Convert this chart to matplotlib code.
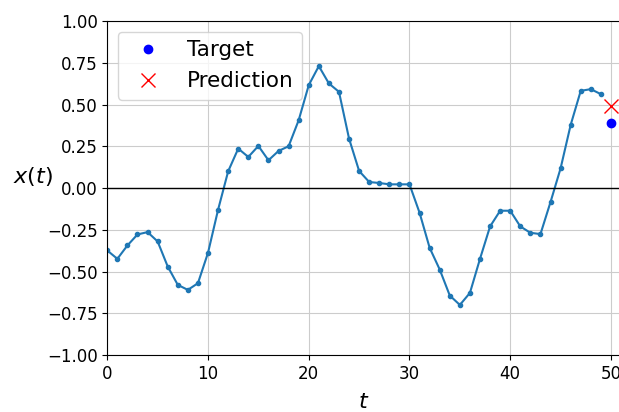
import numpy as np
import matplotlib
matplotlib.use("Agg")
import matplotlib.pyplot as plt

plt.rc("axes", labelsize=14)
plt.rc("xtick", labelsize=12)
plt.rc("ytick", labelsize=12)

n_steps = 50

# observed series x(t) for t = 0..49
series = [-0.374, -0.424, -0.344, -0.278, -0.264, -0.32, -0.47, -0.58, -0.61, -0.57,
          -0.388, -0.13, 0.10, 0.236, 0.186, 0.252, 0.166, 0.222, 0.25, 0.406,
          0.616, 0.73, 0.626, 0.576, 0.296, 0.102, 0.036, 0.03, 0.022, 0.022,
          0.022, -0.148, -0.358, -0.488, -0.644, -0.70, -0.628, -0.424, -0.23, -0.136,
          -0.136, -0.23, -0.268, -0.276, -0.084, 0.118, 0.378, 0.582, 0.592, 0.562]
target = 0.392
prediction = 0.49

fig = plt.figure(figsize=(6.19, 4.12), dpi=100)
ax = fig.add_axes([0.1733, 0.1383, 0.830, 0.8107])

ax.plot(np.arange(len(series)), series, ".-")
ax.plot(n_steps, target, "bo", label="Target")
ax.plot(n_steps, prediction, "rx", markersize=10, label="Prediction")
ax.grid(True, color="#cccccc")
ax.set_xlabel("$t$", fontsize=16, labelpad=7)
ax.set_ylabel("$x(t)$", fontsize=16, rotation=0, labelpad=10)
ax.hlines(0, 0, 100, linewidth=1, color="black")
ax.axis([0, n_steps + 1, -1, 1])
ax.legend(fontsize=15.5, loc="upper left")

fig.savefig("out.png", dpi=100)
